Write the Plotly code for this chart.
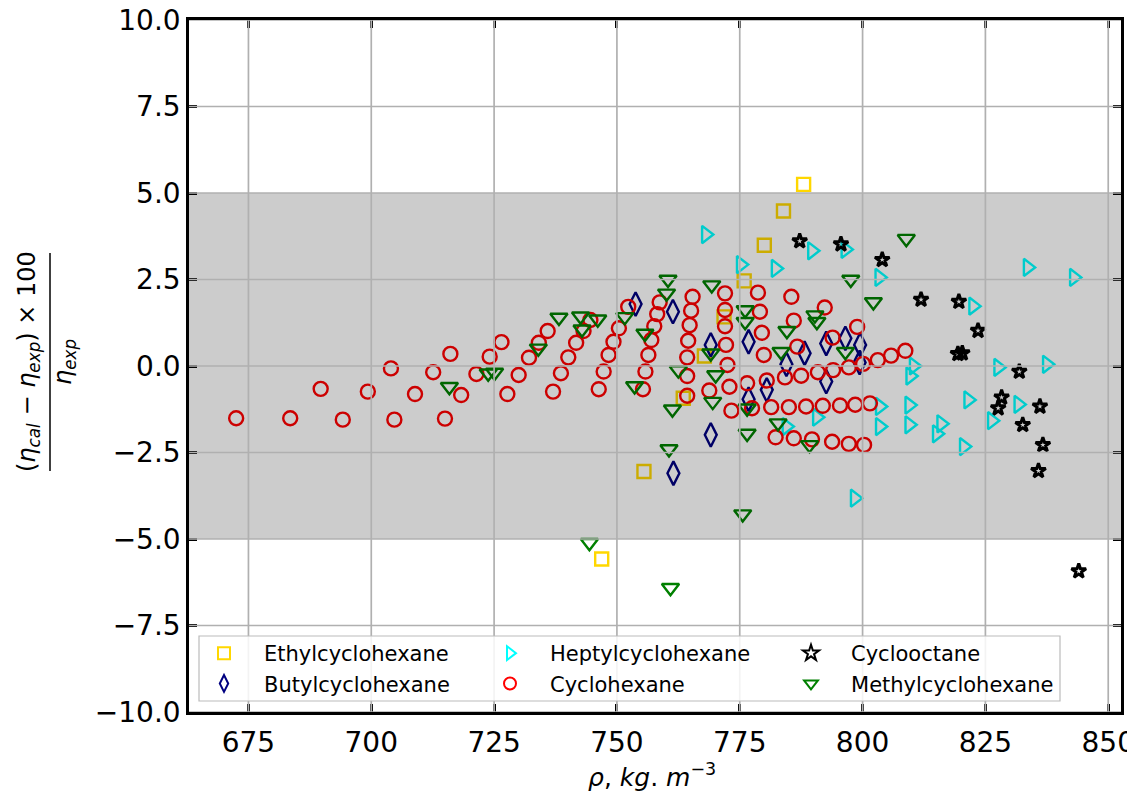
import plotly.graph_objects as go

# ---------------- data ----------------
ethyl_x = [788.0, 783.9, 780.0, 775.9, 771.8, 767.8, 763.5, 755.5, 746.9]
ethyl_y = [5.25, 4.48, 3.49, 2.46, 1.42, 0.29, -0.93, -3.05, -5.58]

butyl_x = [753.8, 761.4, 769.1, 769.1, 761.5, 776.8, 776.8, 780.5, 784.5, 788.2,
           792.6, 792.6, 796.5, 799.5, 799.4]
butyl_y = [1.79, 1.57, 0.61, -1.99, -3.10, 0.70, -0.96, -0.69, 0.05, 0.37,
           0.65, -0.45, 0.80, 0.61, 0.10]

heptyl_x = [768.1, 775.2, 782.3, 789.7, 796.5, 803.4, 833.6, 843.0, 822.5, 810.4,
            809.7, 827.6, 837.5, 790.7, 784.5, 803.5, 803.5, 809.5, 809.5, 816.0,
            815.1, 821.5, 826.3, 831.7, 820.6, 798.4]
heptyl_y = [3.80, 2.93, 2.82, 3.33, 3.37, 2.56, 2.85, 2.56, 1.73, 0.00,
            -0.29, -0.04, 0.05, -1.48, -1.75, -1.17, -1.75, -1.13, -1.70, -1.67,
            -1.96, -0.98, -1.58, -1.11, -2.33, -3.82]

cyclohexane_x = [672.5, 683.5, 694.2, 704.7, 715.0,
                 689.7, 699.3, 708.9, 718.3, 727.7, 737.0, 746.3, 755.3,
                 704.0, 712.6, 721.4, 730.0, 738.6, 747.3, 755.8,
                 716.1, 724.1, 732.1, 740.1, 748.3, 756.4,
                 726.5, 734.1, 741.7, 749.3, 757.0,
                 735.9, 743.2, 750.4, 757.6,
                 744.6, 752.3, 758.2, 758.7,
                 764.3, 764.3, 764.3, 764.5, 764.8, 765.1, 765.4,
                 768.8,
                 772.0, 772.0, 772.0, 772.2, 772.5, 772.9, 773.3,
                 776.5,
                 778.7, 779.1, 779.5, 779.9, 780.5,
                 785.5, 786.0, 786.7, 784.2,
                 792.3, 793.9,
                 787.5, 790.9, 794.0, 797.2, 800.1, 803.1, 805.8, 808.7,
                 798.9,
                 777.5, 781.4, 785.0, 788.5, 791.9, 795.4, 798.5, 801.5,
                 782.3, 786.0, 789.7, 793.8, 797.2, 800.3]
cyclohexane_y = [-1.51, -1.51, -1.55, -1.55, -1.52,
                 -0.66, -0.74, -0.81, -0.84, -0.81, -0.74, -0.67, -0.67,
                 -0.07, -0.18, -0.23, -0.26, -0.21, -0.16, -0.16,
                 0.35, 0.27, 0.24, 0.25, 0.32, 0.32,
                 0.69, 0.67, 0.67, 0.70, 0.75,
                 1.01, 1.01, 1.09, 1.15,
                 1.33, 1.71, 1.50, 1.84,
                 -0.86, -0.29, 0.25, 0.73, 1.18, 1.60, 2.00,
                 -0.71,
                 2.10, 1.62, 1.15, 0.61, 0.03, -0.60, -1.29,
                 -0.50,
                 2.12, 1.57, 0.96, 0.32, -0.42,
                 2.00, 1.31, 0.56, -0.33,
                 1.69, 0.82,
                 -0.28, -0.18, -0.12, -0.04, 0.06, 0.17, 0.30, 0.44,
                 1.13,
                 -1.22, -1.19, -1.19, -1.17, -1.15, -1.14, -1.12, -1.08,
                 -2.06, -2.09, -2.12, -2.19, -2.25, -2.28]

cyclooctane_x = [787.2, 795.6, 804.0, 811.9, 819.6, 823.5, 819.4, 820.3, 831.9, 828.3,
                 827.6, 836.1, 832.6, 836.7, 835.8, 844.0]
cyclooctane_y = [3.61, 3.52, 3.07, 1.92, 1.86, 1.02, 0.35, 0.37, -0.16, -0.91,
                 -1.22, -1.17, -1.70, -2.28, -3.03, -5.93]

methyl_x = [715.9, 723.8, 725.1, 734.0, 738.2, 742.6, 742.9, 746.1, 751.6, 753.6,
            755.7, 760.1, 760.4, 762.5, 761.3, 760.6, 769.3, 769.1, 770.1, 769.5,
            776.1, 776.1, 776.5, 776.5, 784.6, 783.4, 782.8, 789.2, 790.3, 790.7,
            796.5, 797.6, 802.2, 808.9, 775.6, 744.4, 760.9]
methyl_y = [-0.60, -0.21, -0.19, 0.51, 1.40, 1.44, 1.06, 1.35, 1.42, -0.58,
            0.94, 2.10, 2.50, -0.12, -1.25, -2.40, 2.34, 0.37, -0.26, -1.03,
            1.62, 1.28, -1.22, -1.95, 1.02, 0.41, -1.65, -2.28, 1.47, 1.28,
            0.41, 2.50, 1.85, 3.68, -4.28, -5.11, -6.41]

x_ticks = [675, 700, 725, 750, 775, 800, 825, 850]
y_ticks = [-10.0, -7.5, -5.0, -2.5, 0.0, 2.5, 5.0, 7.5, 10.0]
x_range = [662.9, 852.6]
y_range = [-10.0, 10.0]
band = [-5.0, 5.0]

# ---------------- figure ----------------
W, H = 1135, 800
ML, MR, MT, MB = 181, 22, 12, 96
PW = W - ML - MR
PH = H - MT - MB


def px_x(p):
    return (p - ML) / PW


def px_y(p):
    return (H - MB - p) / PH


PAD = "\u00a0\u00a0\u00a0"
series = [
    # name, x, y, symbol, colour, size, line width, legend id
    ("Ethylcyclohexane", ethyl_x, ethyl_y, "square-open", "#FFD700", 13, 2.4, "legend"),
    ("Butylcyclohexane", butyl_x, butyl_y, "diamond-tall-open", "#000080", 17, 2.4, "legend"),
    ("Heptylcyclohexane", heptyl_x, heptyl_y, "triangle-right-open", "#00FFFF", 15, 2.4, "legend2"),
    ("Cyclohexane", cyclohexane_x, cyclohexane_y, "circle-open", "#FF0000", 14, 2.4, "legend2"),
    ("Cyclooctane", cyclooctane_x, cyclooctane_y, "star-open", "#000000", 11, 3.0, "legend3"),
    ("Methylcyclohexane", methyl_x, methyl_y, "triangle-down-open", "#008000", 15, 2.4, "legend3"),
]

fig = go.Figure()
for name, xs, ys, sym, col, sz, lw, leg in series:
    fig.add_trace(go.Scatter(
        x=xs, y=ys, mode="markers", name=PAD + name, legend=leg,
        marker=dict(symbol=sym, size=sz, color=col, line=dict(color=col, width=lw)),
    ))

# grey tolerance band drawn over the markers (like matplotlib axhspan)
fig.add_shape(type="rect", xref="paper", yref="y", x0=0, x1=1, y0=band[0], y1=band[1],
              fillcolor="rgba(0,0,0,0.2)", line=dict(width=0), layer="above")
# grid lines on top
for xv in x_ticks:
    fig.add_shape(type="line", xref="x", yref="paper", x0=xv, x1=xv, y0=0, y1=1,
                  line=dict(color="#b0b0b0", width=1.7), layer="above")
for yv in y_ticks:
    fig.add_shape(type="line", xref="paper", yref="y", x0=0, x1=1, y0=yv, y1=yv,
                  line=dict(color="#b0b0b0", width=1.7), layer="above")

# legend frame
fig.add_shape(type="rect", xref="paper", yref="paper",
              x0=px_x(191), x1=px_x(1052), y0=px_y(693), y1=px_y(628),
              fillcolor="rgba(255,255,255,0.85)", line=dict(color="#bbbbbb", width=1.2),
              layer="above")

axis_common = dict(
    showgrid=False, zeroline=False, showline=True, linecolor="black", linewidth=2.5,
    mirror="ticks", ticks="inside", ticklen=8, tickwidth=2.5, tickcolor="black",
    tickfont=dict(family="DejaVu Sans", size=28, color="black"), automargin=False,
    ticklabeloverflow="allow",
)
fig.update_xaxes(range=x_range, tickvals=x_ticks, ticktext=[str(v) for v in x_ticks],
                 ticklabelstandoff=4, **axis_common)
fig.update_yaxes(range=y_range, tickvals=y_ticks,
                 ticktext=[f"{v:.1f}".replace("-", "\u2212") for v in y_ticks],
                 ticklabelstandoff=0, **axis_common)

# axis titles
fig.add_annotation(xref="paper", yref="paper", x=px_x(644), y=px_y(767),
                   text="<i>ρ</i>, <i>kg</i>. <i>m</i><sup>−3</sup>", showarrow=False,
                   font=dict(family="DejaVu Sans", size=25, color="black"),
                   xanchor="center", yanchor="middle")
fig.add_annotation(xref="paper", yref="paper", x=px_x(21), y=px_y(354),
                   text="(<i>η</i><sub><i>cal</i></sub> − <i>η</i><sub><i>exp</i></sub>) × 100",
                   showarrow=False, textangle=-90,
                   font=dict(family="DejaVu Sans", size=24, color="black"),
                   xanchor="center", yanchor="middle")
fig.add_annotation(xref="paper", yref="paper", x=px_x(57), y=px_y(354),
                   text="<i>η</i><sub><i>exp</i></sub>",
                   showarrow=False, textangle=-90,
                   font=dict(family="DejaVu Sans", size=24, color="black"),
                   xanchor="center", yanchor="middle")
fig.add_shape(type="line", xref="paper", yref="paper", x0=px_x(42), x1=px_x(42),
              y0=px_y(463), y1=px_y(245), line=dict(color="black", width=1.5))

leg_common = dict(
    orientation="v", xanchor="left", yanchor="top", bgcolor="rgba(0,0,0,0)",
    borderwidth=0, font=dict(family="DejaVu Sans", size=21, color="black"),
    itemsizing="constant", tracegroupgap=0,
)
fig.update_layout(
    width=W, height=H,
    margin=dict(l=ML, r=MR, t=MT, b=MB, pad=0, autoexpand=False),
    paper_bgcolor="white", plot_bgcolor="white",
    showlegend=True,
    legend=dict(x=px_x(196), y=px_y(625), **leg_common),
    legend2=dict(x=px_x(482), y=px_y(625), **leg_common),
    legend3=dict(x=px_x(783), y=px_y(625), **leg_common),
)

fig.write_html("out.html")
